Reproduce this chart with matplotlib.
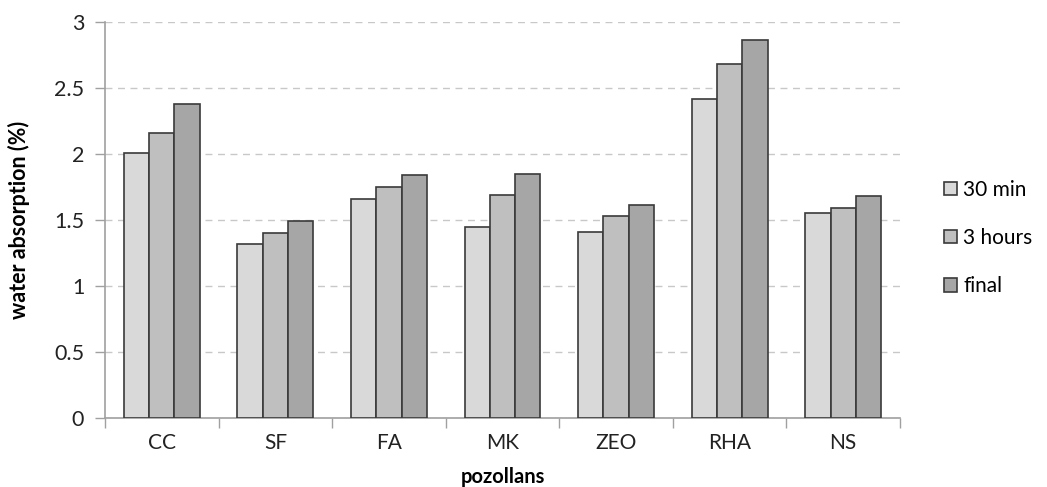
import numpy as np
import matplotlib.pyplot as plt

categories = ["CC", "SF", "FA", "MK", "ZEO", "RHA", "NS"]
series_names = ["30 min", "3 hours", "final"]
min30 = [2.01, 1.32, 1.66, 1.45, 1.41, 2.42, 1.55]
hours3 = [2.16, 1.40, 1.75, 1.69, 1.53, 2.68, 1.59]
final = [2.38, 1.49, 1.84, 1.85, 1.61, 2.86, 1.68]
yticks = [0, 0.5, 1, 1.5, 2, 2.5, 3]
ytick_labels = ["0", "0.5", "1", "1.5", "2", "2.5", "3"]

plt.rcParams["font.family"] = ["Lato", "DejaVu Sans"]
colors = ["#d9d9d9", "#bfbfbf", "#a6a6a6"]
edge = "#3a3a3a"
axis_col = "#a0a0a0"

fig = plt.figure(figsize=(10.47, 4.87), dpi=100)
ax = fig.add_axes([0.1003, 0.1417, 0.7593, 0.8131])

x = np.arange(len(categories))
w = 0.223
for i, (vals, name) in enumerate(zip([min30, hours3, final], series_names)):
    ax.bar(x + (i - 1) * w, vals, w, color=colors[i], edgecolor=edge,
           linewidth=1.2, label=name, zorder=3)

ax.set_xlim(-0.5, len(categories) - 0.5)
ax.set_ylim(0, 3)
ax.set_yticks(yticks)
ax.set_yticklabels(ytick_labels)
ax.set_xticks(x)
ax.set_xticklabels(categories)
ax.set_xticks(np.arange(len(categories) + 1) - 0.5, minor=True)
ax.tick_params(axis="x", which="major", length=0, labelsize=15, pad=11, colors="#222222")
ax.tick_params(axis="x", which="minor", length=7, color=axis_col, width=1)
ax.tick_params(axis="y", length=7, color=axis_col, width=1, labelsize=15.5, pad=8, labelcolor="#222222")

ax.yaxis.grid(True, linestyle=(0, (5, 4)), color="#c8c8c8", linewidth=1, zorder=0)
for s in ["top", "right"]:
    ax.spines[s].set_visible(False)
for s in ["left", "bottom"]:
    ax.spines[s].set_color(axis_col)
    ax.spines[s].set_linewidth(1.2)

ax.set_ylabel("water absorption (%)", fontsize=15.5, fontweight="bold")
ax.yaxis.set_label_coords(-0.094, 0.5)
ax.set_xlabel("pozollans", fontsize=14.5, fontweight="bold")
ax.xaxis.set_label_coords(0.5, -0.123)

fig.legend(loc="center left", bbox_to_anchor=(0.902, 0.511), frameon=False,
           fontsize=15, handlelength=0.6, handleheight=0.6, handletextpad=0.3,
           labelspacing=1.35, borderaxespad=0, borderpad=0)

fig.savefig("out.png", dpi=100)
